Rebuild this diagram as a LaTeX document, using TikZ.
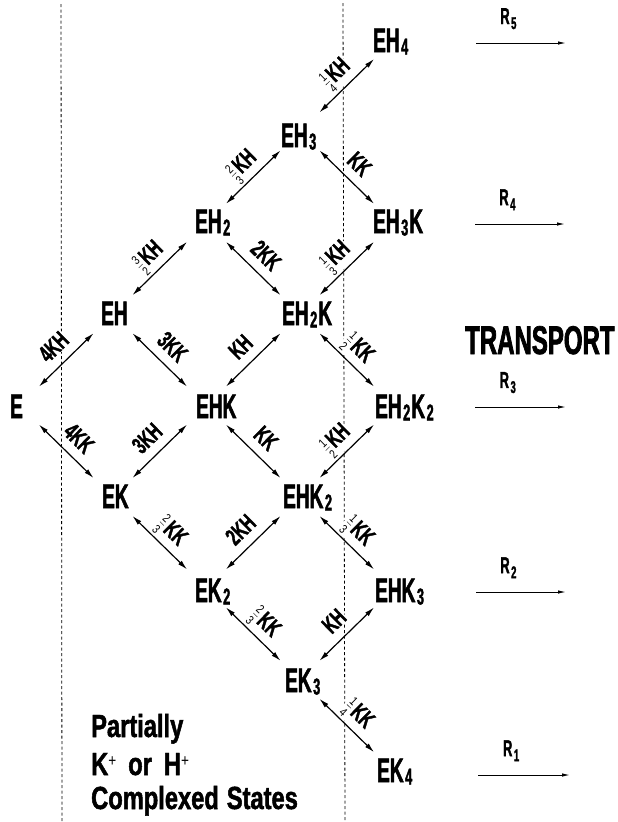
\documentclass[tikz,border=0pt]{standalone}
\usepackage{fontspec}
\usetikzlibrary{arrows.meta}
\newfontfamily\condA{Liberation Sans Bold}[FakeStretch=0.56, FakeBold=1.5]
\newfontfamily\condL{Liberation Sans Bold}[FakeStretch=0.64, FakeBold=1.5]
\newfontfamily\condB{Liberation Sans Bold}[FakeStretch=0.74, FakeBold=1.5]
\newfontfamily\condC{Liberation Sans Bold}[FakeStretch=0.6, FakeBold=1.8]
\newfontfamily\thinf{Liberation Sans}[FakeStretch=0.8]
\newcommand\nsub[1]{\kern1.5pt\raisebox{-2.5pt}{\fontsize{23}{23}\selectfont #1}\kern1pt}
\newcommand\rsub[1]{\kern1.5pt\raisebox{-5pt}{\fontsize{17}{17}\selectfont #1}}
\newcommand\frc[2]{\raisebox{0pt}{\thinf\fontsize{20}{20}\selectfont$\frac{\mbox{\thinf\fontsize{12.5}{12.5}\selectfont #1}}{\mbox{\thinf\fontsize{12.5}{12.5}\selectfont #2}}$}\kern1.5pt}
\newcommand\plus{\raisebox{9pt}{\thinf\fontsize{17}{17}\selectfont +}}
\begin{document}
\begin{tikzpicture}[x=1pt,y=-1pt,
  st/.style={font=\condA\fontsize{34}{34}\selectfont, inner sep=1pt, fill=white, anchor=base west},
  el/.style={font=\condL\fontsize{24}{24}\selectfont, sloped, midway, inner sep=1pt, fill=white, above=10pt, anchor=base},
  ar/.style={{Latex[length=10pt,width=5pt]}-{Latex[length=10pt,width=5pt]}, line width=1.2pt, shorten <=27pt, shorten >=27pt},
  rar/.style={-{Latex[length=8pt,width=3.5pt]}, line width=1pt},
  rl/.style={font=\condA\fontsize{23}{23}\selectfont, anchor=base, pos=0.36, above=10pt},
  dl/.style={dash pattern=on 3pt off 2.5pt, line width=0.8pt},
  big/.style={font=\condC\fontsize{40}{40}\selectfont, anchor=base west, inner sep=0pt},
  note/.style={font=\condB\fontsize{32}{32}\selectfont, anchor=base west, inner sep=0pt},
]
\fill[white] (0,0) rectangle (618,822);
\useasboundingbox (0,0) rectangle (618,822);
% dashed separators
\coordinate (d1t) at (61,4); \coordinate (d1b) at (62,822);
\coordinate (d2t) at (343,3); \coordinate (d2b) at (345,822);
\draw[dl] (d1t) -- (d1b);
\draw[dl] (d2t) -- (d2b);
% lattice points
\coordinate (pEH4) at (393.5,40);
\coordinate (pEH3) at (300,131.4);
\coordinate (pEH2) at (206.5,222.8);
\coordinate (pEH3K) at (393.5,222.8);
\coordinate (pEH) at (113,314.2);
\coordinate (pEH2K) at (300,314.2);
\coordinate (pE) at (19.5,405.6);
\coordinate (pEHK) at (206.5,405.6);
\coordinate (pEH2K2) at (393.5,405.6);
\coordinate (pEK) at (113,497);
\coordinate (pEHK2) at (300,497);
\coordinate (pEK2) at (206.5,588.4);
\coordinate (pEHK3) at (393.5,588.4);
\coordinate (pEK3) at (300,679.8);
\coordinate (pEK4) at (393.5,771.2);
% connectors
\draw[ar] (pEH3) -- node[el]{\frc14KH} (pEH4);
\draw[ar] (pEH2) -- node[el]{\frc23KH} (pEH3);
\draw[ar] (pEH3) -- node[el]{KK} (pEH3K);
\draw[ar] (pEH) -- node[el]{\frc32KH} (pEH2);
\draw[ar] (pEH2) -- node[el]{2KK} (pEH2K);
\draw[ar] (pEH2K) -- node[el]{\frc13KH} (pEH3K);
\draw[ar] (pE) -- node[el]{4KH} (pEH);
\draw[ar] (pEH) -- node[el]{3KK} (pEHK);
\draw[ar] (pEHK) -- node[el]{KH} (pEH2K);
\draw[ar] (pEH2K) -- node[el]{\frc12KK} (pEH2K2);
\draw[ar] (pE) -- node[el]{4KK} (pEK);
\draw[ar] (pEK) -- node[el]{3KH} (pEHK);
\draw[ar] (pEHK) -- node[el]{KK} (pEHK2);
\draw[ar] (pEHK2) -- node[el]{\frc12KH} (pEH2K2);
\draw[ar] (pEK) -- node[el]{\frc23KK} (pEK2);
\draw[ar] (pEK2) -- node[el]{2KH} (pEHK2);
\draw[ar] (pEHK2) -- node[el]{\frc13KK} (pEHK3);
\draw[ar] (pEK2) -- node[el]{\frc23KK} (pEK3);
\draw[ar] (pEK3) -- node[el]{KH} (pEHK3);
\draw[ar] (pEK3) -- node[el]{\frc14KK} (pEK4);
% states
\node[st] (EH4) at (372,52) {EH\nsub4};
\node[st] (EH3) at (280,147) {EH\nsub3};
\node[st] (EH2) at (194,233) {EH\nsub2};
\node[st] (EH3K) at (372,233) {EH\nsub3K};
\node[st] (EH) at (100,325) {EH};
\node[st] (EH2K) at (281,325) {EH\nsub2K};
\node[st] (E) at (9,418) {E};
\node[st] (EHK) at (195,418) {EHK};
\node[st] (EH2K2) at (374,418) {EH\nsub2K\nsub2};
\node[st] (EK) at (101,508) {EK};
\node[st] (EHK2) at (282,508) {EHK\nsub2};
\node[st] (EK2) at (194,602) {EK\nsub2};
\node[st] (EHK3) at (374,602) {EHK\nsub3};
\node[st] (EK3) at (284,692) {EK\nsub3};
\node[st] (EK4) at (376,782) {EK\nsub4};
% transport rates
\coordinate (r5a) at (476,43); \coordinate (r5b) at (566,43);
\coordinate (r4a) at (475,224); \coordinate (r4b) at (565,224);
\coordinate (r3a) at (475,407); \coordinate (r3b) at (566,407);
\coordinate (r2a) at (476,592); \coordinate (r2b) at (566,592);
\coordinate (r1a) at (478,775); \coordinate (r1b) at (570,775);
\draw[rar] (r5a) -- node[rl]{R\rsub5} (r5b);
\draw[rar] (r4a) -- node[rl]{R\rsub4} (r4b);
\draw[rar] (r3a) -- node[rl]{R\rsub3} (r3b);
\draw[rar] (r2a) -- node[rl]{R\rsub2} (r2b);
\draw[rar] (r1a) -- node[rl]{R\rsub1} (r1b);
\node[big] (TR) at (465,354) {TRANSPORT};
\node[note] (N1) at (91,737) {Partially};
\node[note] (N2) at (91,775) {K\plus\hspace{12pt}or\hspace{12pt}H\plus};
\node[note] (N3) at (91,809) {Complexed\hspace{8pt}States};
\end{tikzpicture}
\end{document}
